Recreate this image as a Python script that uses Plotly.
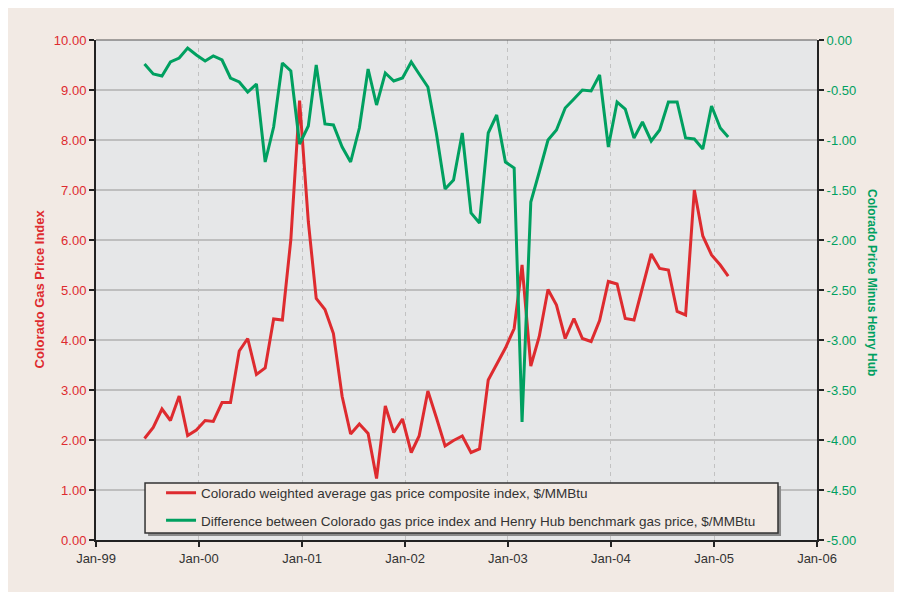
import pandas as pd
import plotly.graph_objects as go

# ---- data (monthly, Jul-1999 .. Mar-2005) ----
start_month = "1999-07-01"
colorado_index = [
    2.03, 2.25, 2.62, 2.39, 2.88, 2.09,
    2.20, 2.39, 2.37, 2.75, 2.75, 3.78, 4.03, 3.31, 3.44, 4.42, 4.40, 6.01,
    8.79, 6.37, 4.83, 4.61, 4.13, 2.87, 2.12, 2.32, 2.13, 1.23, 2.68, 2.15,
    2.42, 1.75, 2.08, 2.98, 2.45, 1.88, 1.99, 2.08, 1.75, 1.82, 3.20, 3.53,
    3.84, 4.23, 5.50, 3.48, 4.07, 5.01, 4.70, 4.03, 4.43, 4.03, 3.97, 4.39,
    5.17, 5.12, 4.43, 4.40, 5.05, 5.72, 5.43, 5.40, 4.57, 4.50, 7.00, 6.08,
    5.70, 5.50, 5.28,
]
diff_henry_hub = [
    -0.24, -0.34, -0.36, -0.22, -0.18, -0.08,
    -0.15, -0.21, -0.16, -0.20, -0.38, -0.42, -0.52, -0.44, -1.22, -0.87, -0.23, -0.31,
    -1.04, -0.86, -0.25, -0.84, -0.85, -1.07, -1.22, -0.88, -0.29, -0.65, -0.33, -0.41,
    -0.38, -0.22, -0.34, -0.47, -0.93, -1.49, -1.40, -0.93, -1.73, -1.83, -0.93, -0.75,
    -1.22, -1.28, -3.82, -1.62, -1.32, -1.00, -0.90, -0.68, -0.59, -0.50, -0.51, -0.35,
    -1.07, -0.62, -0.69, -0.98, -0.82, -1.01, -0.90, -0.62, -0.62, -0.98, -0.99, -1.09,
    -0.66, -0.88, -0.97,
]
series_names = [
    "Colorado weighted average gas price composite index, $/MMBtu",
    "Difference between Colorado gas price index and Henry Hub benchmark gas price, $/MMBtu",
]
left_title = "Colorado Gas Price Index"
right_title = "Colorado Price Minus Henry Hub"
x_range = ["1999-01-01", "2006-01-01"]
right_tick_vals = [0.0, -0.5, -1.0, -1.5, -2.0, -2.5, -3.0, -3.5, -4.0, -4.5, -5.0]
right_tick_text = ["%.2f" % v if v != 0 else "0.00" for v in right_tick_vals]

dates = pd.date_range(start_month, periods=len(colorado_index), freq="MS") - pd.Timedelta(days=9)

RED = "#DE2B2F"
GREEN = "#00A060"
PAPER = "#F2EAE4"
PLOT = "#E6E7E8"
GRID = "#BEBEBE"
FONT = "Liberation Sans, Arial, sans-serif"

fig = go.Figure()
fig.add_trace(go.Scatter(x=dates, y=colorado_index, mode="lines", name=series_names[0],
                         line=dict(color=RED, width=3), yaxis="y", legendgroup="a"))
fig.add_trace(go.Scatter(x=dates, y=diff_henry_hub, mode="lines", name=series_names[1],
                         line=dict(color=GREEN, width=3), yaxis="y2", legendgroup="b"))

# legend box with shadow
bx0, bx1, by0, by1 = 0.068, 0.9459, 0.014, 0.114
fig.add_shape(type="rect", xref="paper", yref="paper", x0=bx0 + 0.0042, x1=bx1 + 0.0042,
              y0=by0 - 0.006, y1=by1 - 0.006, fillcolor="#8A8A8A", line=dict(width=0), layer="above")
fig.add_shape(type="rect", xref="paper", yref="paper", x0=bx0, x1=bx1, y0=by0, y1=by1,
              fillcolor=PAPER, line=dict(color="#333333", width=1.5), layer="above")

fig.update_layout(
    width=902, height=592,
    margin=dict(l=88, r=93, t=32, b=60),
    paper_bgcolor=PAPER, plot_bgcolor=PLOT,
    font=dict(family=FONT, size=13, color="#333333"),
    showlegend=True,
    legend=dict(x=0.0902, y=0.125, xanchor="left", yanchor="top",
                bgcolor="rgba(0,0,0,0)", borderwidth=0,
                traceorder="grouped", tracegroupgap=7,
                font=dict(family=FONT, size=13.5, color="#333333"), itemwidth=30),
    xaxis=dict(type="date", range=x_range, dtick="M12", tick0="1999-01-01",
               tickformat="%b-%y", showgrid=True, gridcolor="#C2C2C2", griddash="4px,4px", gridwidth=1.2,
               showline=True, linecolor="#222222", linewidth=2, mirror=False,
               ticks="outside", ticklen=5, tickcolor="#222222", tickwidth=1.5,
               tickfont=dict(size=13, color="#333333"), zeroline=False),
    yaxis=dict(range=[0, 10], dtick=1, tickformat=".2f", showgrid=True, gridcolor=GRID, gridwidth=1.5,
               showline=True, linecolor="#222222", linewidth=2,
               ticks="outside", ticklen=5, tickcolor="#222222", tickwidth=1.5,
               tickfont=dict(size=13, color=RED), zeroline=False),
    yaxis2=dict(range=[-5, 0], tickmode="array", tickvals=right_tick_vals, ticktext=right_tick_text,
                overlaying="y", side="right",
                showgrid=False, showline=True, linecolor="#222222", linewidth=2,
                ticks="outside", ticklen=5, tickcolor="#222222", tickwidth=1.5,
                tickfont=dict(size=13, color=GREEN), zeroline=False),
    annotations=[
        dict(text="<b>" + left_title + "</b>", xref="paper", yref="paper", x=-0.0777, y=0.503,
             xanchor="center", yanchor="middle",
             textangle=-90, showarrow=False, font=dict(size=13, color=RED, family=FONT)),
        dict(text="<b>" + right_title + "</b>", xref="paper", yref="paper", x=1.0763, y=0.516,
             xanchor="center", yanchor="middle",
             textangle=90, showarrow=False, font=dict(size=12, color=GREEN, family=FONT)),
    ],
)
# top border of plot area
fig.add_shape(type="line", xref="paper", yref="paper", x0=0, x1=1, y0=1, y1=1,
              line=dict(color="#555555", width=1))

fig.write_html("out.html")
